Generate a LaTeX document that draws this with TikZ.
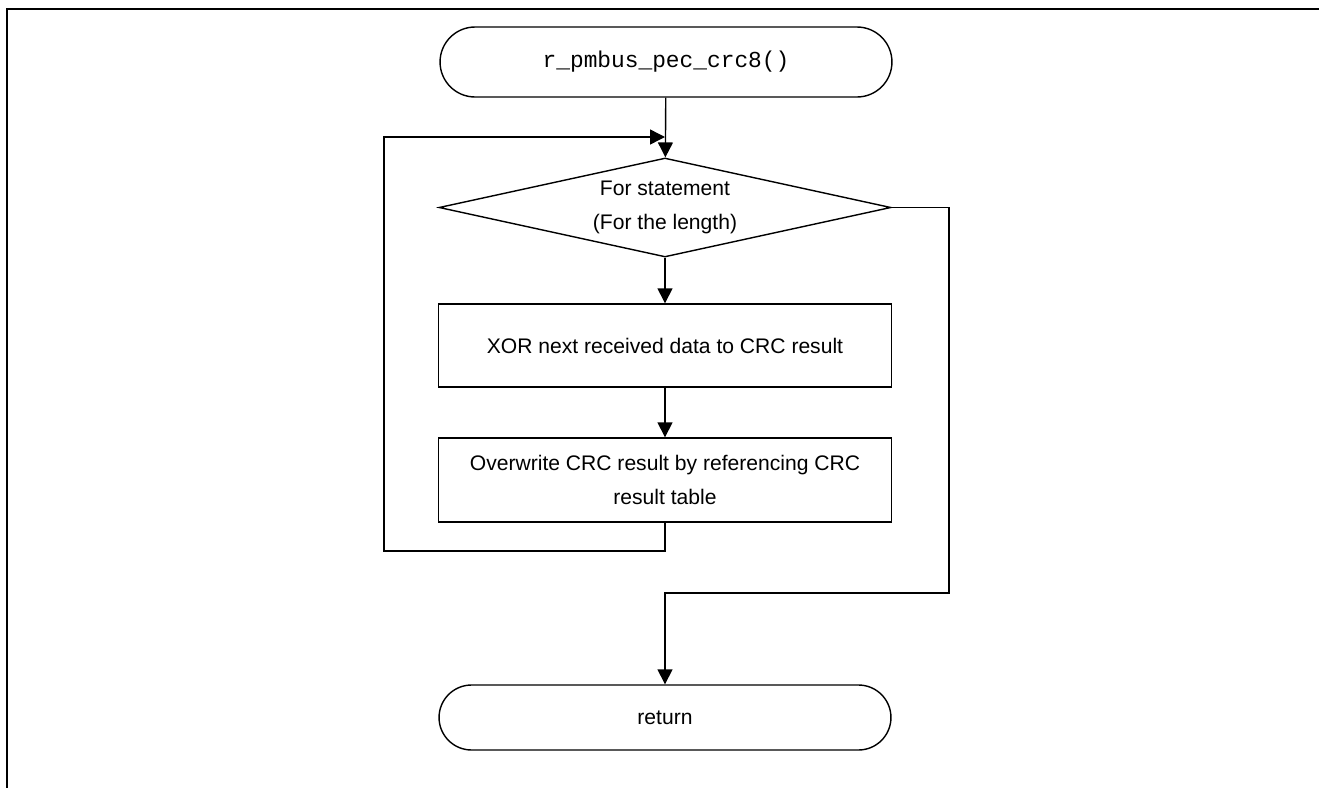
\documentclass[tikz,border=0pt]{standalone}
\usepackage{fontspec}
\setmainfont{Liberation Sans}
\newfontfamily\codefont{Liberation Mono}
\usetikzlibrary{shapes.geometric,shapes.misc,arrows.meta}
\tikzset{
	term/.style={draw, rounded rectangle, minimum width=9.04cm, minimum height=1.4cm, inner sep=0pt},
	proc/.style={draw, rectangle, minimum width=9.06cm, minimum height=1.66cm, align=center, inner sep=0pt},
	decision/.style={draw, diamond, aspect=4.57, minimum width=9.04cm, minimum height=1.98cm, inner sep=0pt, align=center}
}
\begin{document}
\begin{tikzpicture}[x=0.02cm,y=-0.02cm,line cap=butt,line join=miter,>={Triangle[length=8.5pt,width=8.5pt]},line width=0.8pt,font=\fontsize{12}{19.5}\selectfont]
	\useasboundingbox (0,0) rectangle (1319,788);
	% frame
	\draw[line width=1.5pt] (7,800) -- (7,9) -- (1330,9);
	
	\node[term, font=\codefont\fontsize{13}{15}\selectfont] (start) at (666,62) {r\_pmbus\_pec\_crc8()};
	\node[decision] (loop) at (665,207.5) {For statement\\(For the length)};
	\node[proc] (xor) at (665,345.5) {XOR next received data to CRC result};
	\node[proc, minimum height=1.68cm] (over) at (665,480) {Overwrite CRC result by referencing CRC\\result table};
	\node[term, minimum height=1.3cm] (ret) at (665,717.5) {return};
	
	\coordinate (join) at (665,137);
	\coordinate (back) at (384,551);
	\coordinate (exit) at (949,593);
	
	\draw[->] (start) -- (loop);
	\draw[->] (loop) -- (xor);
	\draw[->] (xor) -- (over);
	\draw[->] (over.south) |- (back) |- (join);
	\draw[->] (loop.east) -| (exit) -| (ret.north);
	
\end{tikzpicture}
\end{document}
